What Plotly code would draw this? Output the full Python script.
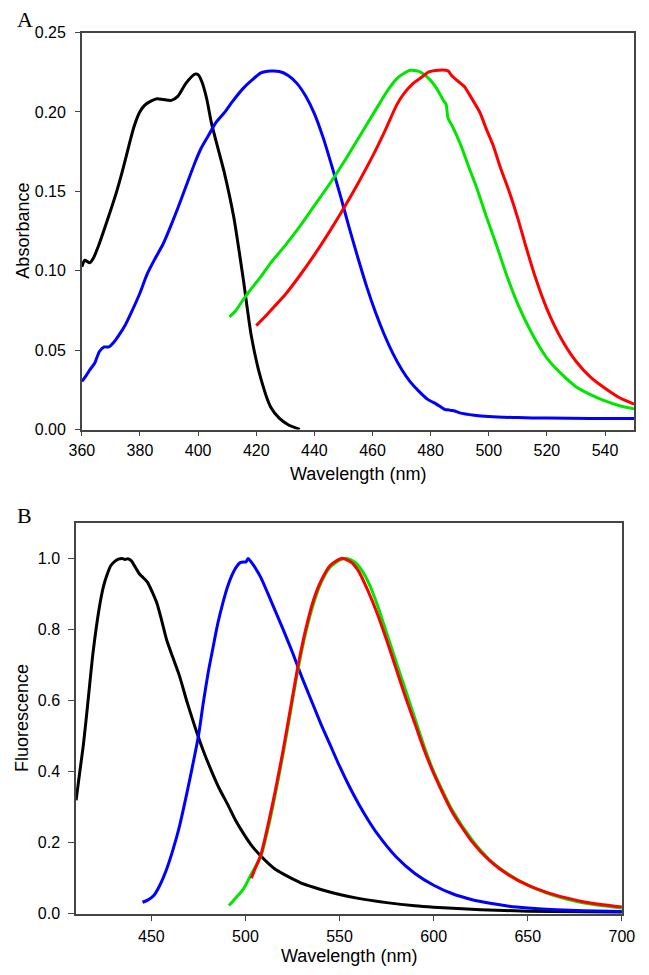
import plotly.graph_objects as go

W, H = 649, 975

# ---------------- Panel A: absorbance ----------------
abs_black_x = [360, 361, 362.7, 364, 366, 369, 372, 374, 376.5, 378, 379.8, 381.5, 383, 385.9, 388,
               390.8, 393, 395.8, 398.9, 400, 401.3, 403, 404.6, 407, 409, 412.3, 415.6, 418.3,
               421.6, 425, 428, 431, 435]
abs_black_y = [0.1025, 0.1066, 0.105, 0.108, 0.117, 0.133, 0.150, 0.163, 0.181, 0.191, 0.1995, 0.204,
               0.206, 0.2083, 0.2078, 0.2073, 0.2098, 0.218, 0.2238, 0.2235, 0.219, 0.208, 0.193,
               0.176, 0.162, 0.1335, 0.094, 0.059, 0.032, 0.014, 0.007, 0.003, 0.0]

abs_blue_x = [360, 361.5, 362.7, 364.4, 366, 367.7, 369.3, 371, 372.6, 375, 377, 380, 382.5, 385, 388,
              391, 393.5, 396, 399, 401, 403.5, 406, 409, 412, 415.6, 418.5, 421.6, 425, 428, 431,
              434, 437, 440, 443, 446, 449, 452, 455, 458, 461, 464, 467, 470, 473, 476, 479, 482,
              485, 486, 487, 488, 490, 495, 500, 510, 520, 535, 550]
abs_blue_y = [0.0303, 0.034, 0.0375, 0.0417, 0.049, 0.052, 0.052, 0.055, 0.059, 0.066, 0.0736, 0.086,
              0.098, 0.107, 0.117, 0.130, 0.1417, 0.154, 0.1685, 0.177, 0.185, 0.193, 0.1995, 0.207,
              0.215, 0.220, 0.2246, 0.2258, 0.2255, 0.223, 0.218, 0.210, 0.199, 0.184, 0.166, 0.147,
              0.127, 0.108, 0.090, 0.074, 0.060, 0.048, 0.038, 0.030, 0.024, 0.019, 0.016, 0.0125,
              0.0125, 0.012, 0.0118, 0.0105, 0.009, 0.0082, 0.0075, 0.0072, 0.007, 0.007]

abs_green_x = [410.8, 413, 415.6, 418, 421.6, 425, 430, 435, 440, 445, 450, 455, 460, 465, 468.4, 471,
               473, 476, 479.4, 482, 484.5, 485.3, 486, 487.5, 490.4, 493, 495.9, 499, 502.5, 506,
               510, 515, 520, 525, 530, 535, 540, 545, 550]
abs_green_y = [0.071, 0.075, 0.082, 0.088, 0.0963, 0.105, 0.116, 0.128, 0.141, 0.154, 0.168, 0.183,
               0.198, 0.213, 0.221, 0.2245, 0.2263, 0.2255, 0.221, 0.215, 0.207, 0.205, 0.196, 0.191,
               0.179, 0.166, 0.152, 0.135, 0.117, 0.098, 0.079, 0.060, 0.045, 0.035, 0.027, 0.022,
               0.018, 0.015, 0.013]

abs_red_x = [420, 423, 426, 430, 435, 440, 445, 450, 455, 460, 464, 468.4, 471, 474, 477, 479.4, 482.7,
             486, 487.2, 489, 491.6, 494, 497, 499, 501.5, 504, 507, 510, 512.5, 516, 520, 525, 530,
             535, 540, 545, 550]
abs_red_y = [0.0654, 0.071, 0.077, 0.085, 0.097, 0.110, 0.124, 0.139, 0.155, 0.172, 0.187, 0.2046,
             0.212, 0.218, 0.222, 0.2252, 0.2263, 0.2259, 0.223, 0.220, 0.216, 0.209, 0.1995, 0.190,
             0.179, 0.165, 0.150, 0.133, 0.117, 0.096, 0.076, 0.057, 0.043, 0.033, 0.026, 0.020,
             0.016]

# ---------------- Panel B: fluorescence ----------------
fl_black_x = [410, 412, 413.9, 416, 419, 422.4, 424.5, 426.6, 428.5, 430.9, 432.5, 434.3, 436, 437.5,
              439.4, 441.5, 443.7, 445.8, 447.9, 450.5, 453, 455.5, 458.1, 461.5, 464.9, 469, 473.4,
              477.5, 481.9, 486, 490.4, 494.5, 498.9, 503.5, 508.2, 512, 516, 520, 525, 530, 540,
              550, 560, 575, 590, 600, 625, 650, 675, 700]
fl_black_y = [0.319, 0.40, 0.476, 0.58, 0.734, 0.863, 0.92, 0.956, 0.98, 0.993, 0.998, 1.0, 0.997,
              0.999, 0.993, 0.975, 0.956, 0.945, 0.933, 0.905, 0.873, 0.825, 0.771, 0.72, 0.67,
              0.595, 0.522, 0.46, 0.402, 0.353, 0.309, 0.265, 0.226, 0.19, 0.162, 0.142, 0.124,
              0.112, 0.098, 0.085, 0.068, 0.054, 0.043, 0.031, 0.022, 0.018, 0.011, 0.007, 0.005,
              0.004]

fl_blue_x = [445.3, 448, 451.3, 454.5, 458.1, 461.5, 464.9, 468.3, 471.7, 475.1, 477.5, 480.2, 482.8,
             485.3, 488, 490.4, 493, 495, 497.2, 499, 500.3, 501.4, 503, 505, 508.2, 512, 516, 520,
             525, 530, 535, 540, 545, 550, 555, 560, 565, 570, 580, 590, 600, 610, 620, 630, 640,
             650, 665, 680, 700]
fl_blue_y = [0.032, 0.038, 0.051, 0.08, 0.125, 0.18, 0.245, 0.325, 0.411, 0.503, 0.59, 0.679, 0.75,
             0.817, 0.875, 0.919, 0.955, 0.975, 0.988, 0.99, 0.99, 1.0, 0.99, 0.975, 0.946, 0.9,
             0.85, 0.8, 0.735, 0.665, 0.6, 0.535, 0.475, 0.415, 0.36, 0.31, 0.265, 0.225, 0.16,
             0.113, 0.08, 0.056, 0.04, 0.029, 0.021, 0.016, 0.011, 0.008, 0.006]

fl_green_x = [491.2, 495, 498.9, 503, 508.2, 512, 516, 520, 524, 528, 532, 536, 540, 545, 550, 554,
              558, 562, 566, 570, 575, 580, 585, 590, 595, 600, 610, 620, 630, 640, 650, 660, 670,
              680, 690, 700]
fl_green_y = [0.023, 0.045, 0.069, 0.11, 0.162, 0.24, 0.34, 0.45, 0.57, 0.69, 0.79, 0.87, 0.93,
              0.975, 0.995, 1.0, 0.99, 0.965, 0.925, 0.87, 0.79, 0.71, 0.63, 0.55, 0.47, 0.40,
              0.29, 0.21, 0.15, 0.11, 0.08, 0.058, 0.042, 0.030, 0.022, 0.016]

fl_red_x = [503.1, 505, 508.2, 512, 516, 520, 524, 528, 532, 536, 540, 545, 551, 556, 560, 565, 570,
            575, 580, 585, 590, 595, 600, 610, 620, 630, 640, 650, 660, 670, 680, 690, 700]
fl_red_y = [0.10, 0.125, 0.166, 0.25, 0.35, 0.46, 0.58, 0.70, 0.80, 0.88, 0.935, 0.98, 1.0, 0.99,
            0.965, 0.91, 0.845, 0.77, 0.69, 0.61, 0.535, 0.46, 0.395, 0.285, 0.205, 0.148, 0.108,
            0.08, 0.06, 0.045, 0.033, 0.025, 0.019]

abs_xticks = [360, 380, 400, 420, 440, 460, 480, 500, 520, 540]
abs_yticks = [0.00, 0.05, 0.10, 0.15, 0.20, 0.25]
fl_xticks = [450, 500, 550, 600, 650, 700]
fl_yticks = [0.0, 0.2, 0.4, 0.6, 0.8, 1.0]

BLACK, BLUE, GREEN, RED = "#000000", "#0000ff", "#00e600", "#ff0000"
LW = 3

fig = go.Figure()

def add(x, y, color, xa, ya):
    fig.add_trace(go.Scatter(x=x, y=y, mode="lines", xaxis=xa, yaxis=ya,
                             line=dict(color=color, width=LW, shape="spline", smoothing=0.6),
                             hoverinfo="skip", showlegend=False))

add(abs_black_x, abs_black_y, BLACK, "x", "y")
add(abs_blue_x, abs_blue_y, BLUE, "x", "y")
add(abs_green_x, abs_green_y, GREEN, "x", "y")
add(abs_red_x, abs_red_y, RED, "x", "y")

add(fl_black_x, fl_black_y, BLACK, "x2", "y2")
add(fl_blue_x, fl_blue_y, BLUE, "x2", "y2")
add(fl_green_x, fl_green_y, GREEN, "x2", "y2")
add(fl_red_x, fl_red_y, RED, "x2", "y2")

FONT = "Liberation Sans, Arial, sans-serif"
LINE = "#444444"
common = dict(showline=True, linecolor=LINE, linewidth=1.5, mirror=True, ticks="outside",
              tickwidth=1.2, tickcolor=LINE, showgrid=False, zeroline=False,
              tickfont=dict(family=FONT, size=16, color="#000"), fixedrange=True)

fig.update_layout(
    width=W, height=H,
    margin=dict(l=0, r=0, t=0, b=0),
    paper_bgcolor="white", plot_bgcolor="white",
    showlegend=False,
    xaxis=dict(domain=[71.7 / W, 647 / W], range=[360, 550], tickvals=abs_xticks,
               anchor="y", ticklen=5, ticklabelstandoff=1, **common),
    yaxis=dict(domain=[1 - 429 / H, 1 - 25 / H], range=[0, 0.25], tickvals=abs_yticks,
               tickformat=".2f", anchor="x", ticklen=5, ticklabelstandoff=6, **common),
    xaxis2=dict(domain=[65.7 / W, 634.3 / W], range=[410, 700], tickvals=fl_xticks,
                anchor="y2", ticklen=6, ticklabelstandoff=1, **common),
    yaxis2=dict(domain=[1 - 921.7 / H, 1 - 524 / H], range=[0, 1.1], tickvals=fl_yticks,
                tickformat=".1f", anchor="x2", ticklen=6, ticklabelstandoff=5, **common),
)

def ann(text, x, y, size, family=FONT, angle=0):
    fig.add_annotation(text=text, x=x / W, y=1 - y / H, xref="paper", yref="paper",
                       showarrow=False, textangle=angle, xanchor="center", yanchor="middle",
                       font=dict(family=family, size=size, color="#000"))

ann("A", 12, 12, 22, family="Liberation Serif, Times New Roman, serif")
ann("B", 12, 516, 22, family="Liberation Serif, Times New Roman, serif")
ann("Wavelength (nm)", 359, 474, 18)
ann("Wavelength (nm)", 350, 965, 18)
ann("Absorbance", 10, 227, 18, angle=-90)
ann("Fluorescence", 10, 723, 18, angle=-90)

fig.write_html("out.html", config={"displayModeBar": False},
               post_script="document.body.style.margin='0px';")
